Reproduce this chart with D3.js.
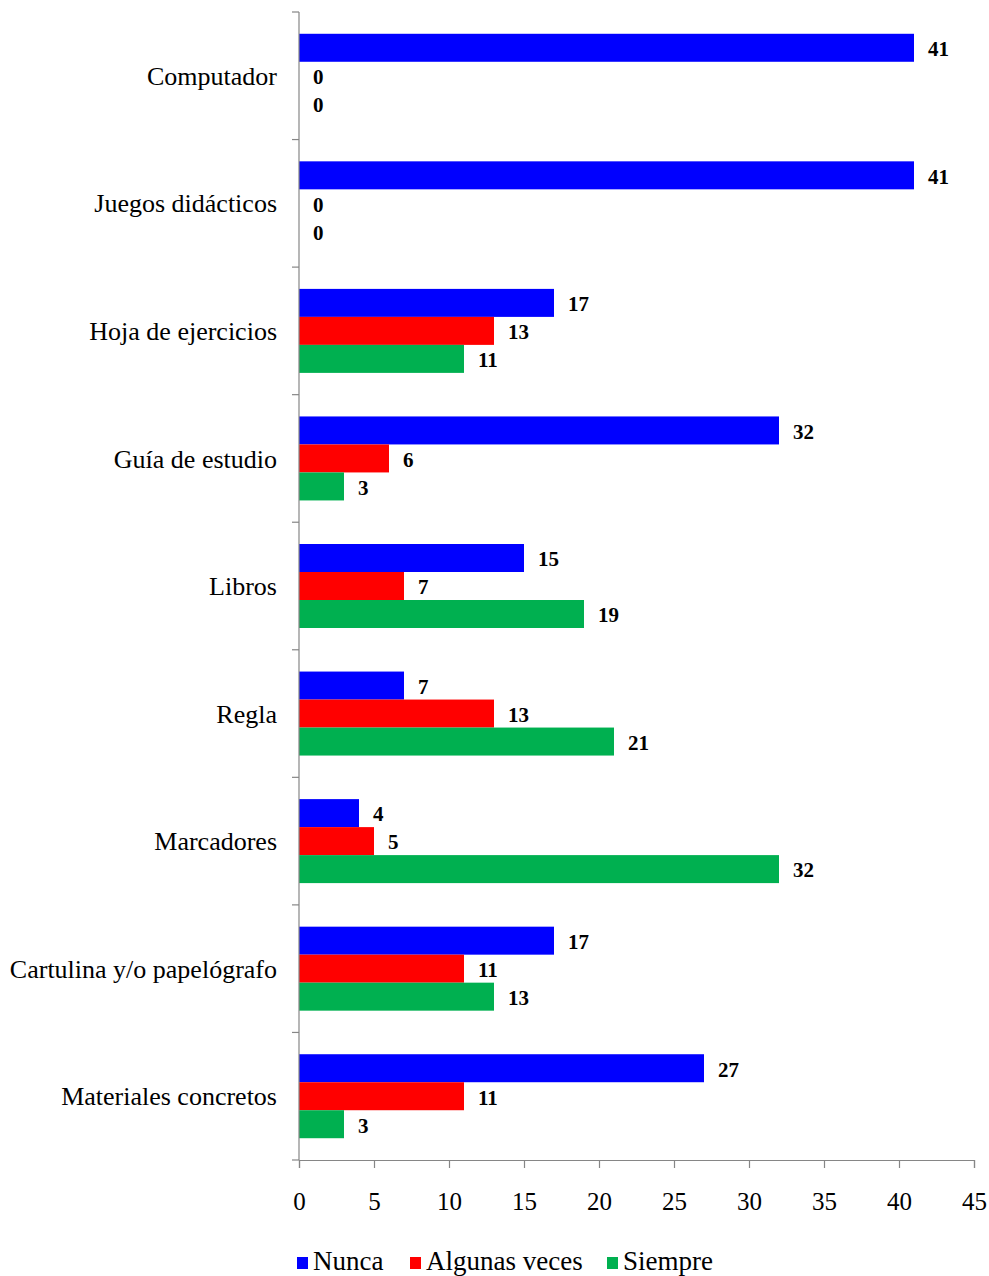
<!DOCTYPE html>
<html>
<head>
<meta charset="utf-8">
<script src="https://cdn.jsdelivr.net/npm/d3@7"></script>
<style>
  html, body { margin: 0; padding: 0; background: #fff; }
  svg { display: block; }
</style>
</head>
<body>
<svg id="chart" width="989" height="1276"></svg>
<script>
// Materials and how often each one is used
const categories = [
  "Computador",
  "Juegos didácticos",
  "Hoja de ejercicios",
  "Guía de estudio",
  "Libros",
  "Regla",
  "Marcadores",
  "Cartulina y/o papelógrafo",
  "Materiales concretos"
];
const seriesNames = ["Nunca", "Algunas veces", "Siempre"];
const nunca        = [41, 41, 17, 32, 15, 7, 4, 17, 27];
const algunasVeces = [0, 0, 13, 6, 7, 13, 5, 11, 11];
const siempre      = [0, 0, 11, 3, 19, 21, 32, 13, 3];
const xTicks = [0, 5, 10, 15, 20, 25, 30, 35, 40, 45];
const colors = ["#0000FF", "#FF0000", "#00B050"];

const FONT = "'Liberation Serif', 'Times New Roman', Tinos, serif";

const seriesValues = [nunca, algunasVeces, siempre];
const rows = categories.map((c, i) => ({
  category: c,
  values: seriesNames.map((s, k) => ({ series: s, value: seriesValues[k][i] }))
}));

const svg = d3.select("#chart").attr("font-family", FONT);
const plotLeft = 299, plotRight = 974, plotTop = 12, plotBottom = 1160;

const x = d3.scaleLinear().domain([0, 45]).range([plotLeft, plotRight]);
const y = d3.scaleBand().domain(categories).range([plotTop, plotBottom]).paddingInner(0).paddingOuter(0);
const ySub = d3.scaleBand().domain(seriesNames).range([0, y.bandwidth()]).paddingInner(0).paddingOuter(0.778);
const color = d3.scaleOrdinal().domain(seriesNames).range(colors);

// Bars
const groups = svg.append("g").selectAll("g")
  .data(rows).join("g")
  .attr("transform", d => `translate(0,${y(d.category)})`);

groups.selectAll("rect")
  .data(d => d.values).join("rect")
  .attr("x", x(0))
  .attr("y", d => ySub(d.series))
  .attr("width", d => x(d.value) - x(0))
  .attr("height", ySub.bandwidth())
  .attr("fill", d => color(d.series));

// Value labels
groups.selectAll("text.val")
  .data(d => d.values).join("text")
  .attr("class", "val")
  .attr("x", d => x(d.value) + 14)
  .attr("y", d => ySub(d.series) + ySub.bandwidth() / 2 + 1)
  .attr("dy", "0.35em")
  .attr("font-family", FONT)
  .attr("font-size", 21)
  .attr("font-weight", "bold")
  .attr("fill", "#000")
  .text(d => d.value);

// Y axis: line with ticks between categories
const yAxis = svg.append("g");
yAxis.append("line")
  .attr("x1", plotLeft).attr("x2", plotLeft)
  .attr("y1", plotTop).attr("y2", plotBottom)
  .attr("stroke", "#868686").attr("stroke-width", 1.2);
const boundaries = categories.map(c => y(c)).concat([plotBottom]);
yAxis.selectAll("line.tick")
  .data(boundaries).join("line")
  .attr("class", "tick")
  .attr("x1", plotLeft - 7).attr("x2", plotLeft)
  .attr("y1", d => d).attr("y2", d => d)
  .attr("stroke", "#868686").attr("stroke-width", 1.2);

// Category labels
svg.append("g").selectAll("text")
  .data(categories).join("text")
  .attr("x", plotLeft - 22)
  .attr("y", d => y(d) + y.bandwidth() / 2)
  .attr("dy", "0.35em")
  .attr("text-anchor", "end")
  .attr("font-family", FONT)
  .attr("font-size", 26)
  .attr("fill", "#000")
  .text(d => d);

// X axis
const xAxis = svg.append("g")
  .attr("transform", `translate(0,${plotBottom})`)
  .call(d3.axisBottom(x).tickValues(xTicks).tickSize(8).tickPadding(24).tickFormat(d3.format("d")))
  .attr("font-family", FONT)
  .attr("font-size", 25);
xAxis.select(".domain").attr("stroke", "#868686").attr("stroke-width", 1.2);
xAxis.selectAll(".tick line").attr("stroke", "#868686").attr("stroke-width", 1.2);
xAxis.selectAll(".tick text").attr("fill", "#000");

// Legend
const legendX = [297, 410, 607];
const legend = svg.append("g").selectAll("g")
  .data(seriesNames).join("g")
  .attr("transform", (d, i) => `translate(${legendX[i]},0)`);
legend.append("rect")
  .attr("x", 0).attr("y", 1257)
  .attr("width", 11).attr("height", 12)
  .attr("fill", d => color(d));
legend.append("text")
  .attr("x", 16).attr("y", 1270)
  .attr("font-family", FONT)
  .attr("font-size", 27)
  .attr("fill", "#000")
  .text(d => d);
</script>
</body>
</html>
